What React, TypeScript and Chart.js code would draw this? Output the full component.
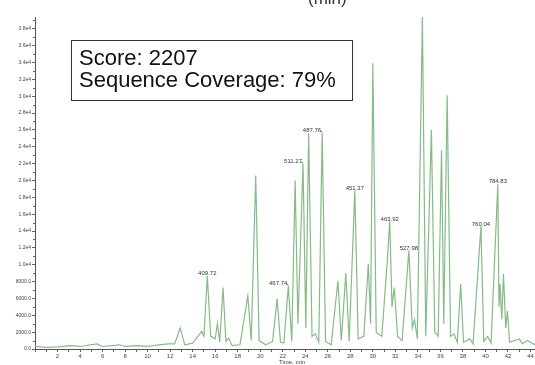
import { useEffect, useRef } from 'react';
import { Chart, registerables } from 'chart.js';

Chart.register(...registerables);

// Retention time (min) and intensity (counts) of the chromatogram trace
const retentionTimes = [
  0, 1.0, 2.0, 3.2, 4.0, 5.5, 6.0, 7.5, 8.0, 9.0, 10.0, 11.0, 11.8,
  12.4, 12.9, 13.3, 14.0, 14.8, 15.0, 15.3, 15.6, 16.0, 16.2, 16.4, 16.7, 16.95,
  17.2, 17.5, 18.2, 18.9, 19.2, 19.6, 19.9, 20.5, 21.1, 21.5, 21.8, 22.1, 22.5,
  22.8, 23.1, 23.35, 23.8, 24.05, 24.3, 24.6, 24.9, 25.2, 25.5, 25.8, 26.3, 26.9,
  27.2, 27.6, 27.9, 28.4, 28.7, 29.2, 29.6, 29.8, 30.0, 30.3, 30.8, 31.3, 31.5,
  31.7, 31.9, 32.2, 32.6, 33.2, 33.5, 33.7, 33.95, 34.4, 34.7, 35.2, 35.5, 35.8,
  36.1, 36.3, 36.6, 36.9, 37.2, 37.5, 37.8, 38.05, 38.6, 38.9, 39.6, 39.85, 40.2,
  40.5, 41.1, 41.2, 41.3, 41.45, 41.6, 41.8, 41.95, 42.15, 43.0, 43.3, 43.7, 44.4,
];
const intensities = [
  300, 200, 250, 400, 300, 600, 300, 500, 300, 400, 300, 500, 600,
  600, 2500, 500, 700, 2100, 1500, 8700, 1500, 1200, 3000, 800, 7300, 900,
  1300, 400, 500, 6300, 1000, 20600, 1000, 500, 900, 6000, 800, 700, 7500,
  900, 20000, 3000, 22000, 2500, 25600, 1500, 1800, 800, 25700, 900, 500, 8100,
  1000, 9000, 900, 18800, 1200, 1500, 10100, 3000, 33900, 2000, 1500, 10800, 15200,
  5000, 7300, 1500, 1000, 11700, 2500, 3500, 1200, 39400, 1500, 26000, 2000, 1500,
  23600, 3000, 30100, 1500, 1800, 800, 7700, 800, 1200, 600, 14600, 900, 1500,
  700, 19600, 5000, 7700, 3500, 8900, 2500, 4500, 800, 1200, 600, 1000, 500,
];

// Annotated peaks: retention time, m/z label, label alignment
const peakLabelTimes = [15.3, 22.5, 23.8, 25.5, 28.4, 31.5, 33.2, 39.6, 41.1];
const peakLabelTexts = ['409.72', '467.74', '511.27', '487.76', '451.37', '463.92', '527.98', '760.04', '784.83'];
const peakLabelAlign = ['center', 'right', 'right', 'right', 'center', 'center', 'center', 'center', 'center'];

const scoreText = 'Score: 2207';
const coverageText = 'Sequence Coverage: 79%';
const xTitle = 'Time, min';
const topTitle = '(min)';

const X_MIN = 0;
const X_MAX = 44.4;
const Y_MIN = 0;
const Y_MAX = 39400;
const Y_MAJOR_STEP = 2000;
const Y_MINOR_STEP = 1000;

function formatY(v: number): string {
  if (v < 10000) return v.toFixed(1);
  return (v / 10000).toFixed(1) + 'e4';
}

const overlayPlugin = {
  id: 'overlay',
  afterDraw(chart: any) {
    const ctx = chart.ctx as CanvasRenderingContext2D;
    const xs = chart.scales.x;
    const ys = chart.scales.y;
    const area = chart.chartArea;
    ctx.save();
    // minor y ticks
    ctx.strokeStyle = '#666';
    ctx.lineWidth = 1;
    ctx.beginPath();
    for (let v = Y_MINOR_STEP; v < Y_MAX; v += Y_MAJOR_STEP) {
      const py = Math.round(ys.getPixelForValue(v)) + 0.5;
      ctx.moveTo(area.left - 2, py);
      ctx.lineTo(area.left, py);
    }
    ctx.stroke();
    // peak labels
    ctx.font = '6px Arial, "Liberation Sans", sans-serif';
    ctx.fillStyle = '#333';
    ctx.textBaseline = 'bottom';
    peakLabelTimes.forEach((t, i) => {
      const idx = retentionTimes.indexOf(t);
      const v = intensities[idx];
      const px = xs.getPixelForValue(t);
      const py = ys.getPixelForValue(v);
      const align = peakLabelAlign[i] as CanvasTextAlign;
      ctx.textAlign = align;
      ctx.fillText(peakLabelTexts[i], align === 'right' ? px - 1 : px, py + 1);
      if (align === 'right') {
        ctx.strokeStyle = '#555';
        ctx.lineWidth = 0.8;
        ctx.beginPath();
        ctx.moveTo(px - 2, py - 1);
        ctx.lineTo(px, py - 1);
        ctx.stroke();
      }
    });
    // annotation box
    ctx.fillStyle = '#fff';
    ctx.fillRect(71, 40, 281, 61);
    ctx.strokeStyle = '#333';
    ctx.lineWidth = 1;
    ctx.strokeRect(71.5, 40.5, 281, 60);
    ctx.fillStyle = '#111';
    ctx.textAlign = 'left';
    ctx.textBaseline = 'alphabetic';
    ctx.font = '22px Arial, "Liberation Sans", sans-serif';
    ctx.fillText(scoreText, 79, 65);
    ctx.fillText(coverageText, 79, 87);
    // titles
    ctx.font = '17px Arial, "Liberation Sans", sans-serif';
    ctx.fillStyle = '#333';
    ctx.textAlign = 'left';
    ctx.fillText(topTitle, 308, 4);
    ctx.font = '6px Arial, "Liberation Sans", sans-serif';
    ctx.fillStyle = '#444';
    ctx.textAlign = 'center';
    ctx.fillText(xTitle, 292, 364);
    ctx.restore();
  },
};

export default function App() {
  const ref = useRef<HTMLCanvasElement | null>(null);
  useEffect(() => {
    document.body.style.margin = '0';
    const canvas = ref.current;
    if (!canvas) return;
    const chart = new Chart(canvas, {
      type: 'line',
      data: {
        datasets: [
          {
            data: retentionTimes.map((t, i) => ({ x: t, y: intensities[i] })),
            borderColor: '#86bb86',
            borderWidth: 1.2,
            pointRadius: 0,
            tension: 0,
            fill: false,
          },
        ],
      },
      options: {
        animation: false,
        responsive: false,
        maintainAspectRatio: false,
        layout: { padding: { top: 17, right: 0, left: 0, bottom: 0 } },
        plugins: { legend: { display: false }, tooltip: { enabled: false } },
        scales: {
          x: {
            type: 'linear',
            min: X_MIN,
            max: X_MAX,
            ticks: {
              stepSize: 1,
              autoSkip: false,
              includeBounds: false,
              maxRotation: 0,
              padding: 1,
              color: '#444',
              font: { size: 6, family: 'Arial' },
              callback: (v: any) => (Math.round(v) % 2 === 0 && v > 0 ? String(Math.round(v)) : ''),
            },
            grid: { display: true, drawOnChartArea: false, tickLength: 3, color: '#666' },
            border: { color: '#555', width: 1 },
            afterFit: (s: any) => {
              s.height = 16;
            },
          },
          y: {
            min: Y_MIN,
            max: Y_MAX,
            afterBuildTicks: (s: any) => {
              const t = [];
              for (let v = Y_MIN; v <= Y_MAX; v += Y_MAJOR_STEP) t.push({ value: v });
              s.ticks = t;
            },
            ticks: {
              autoSkip: false,
              includeBounds: false,
              padding: 1,
              color: '#444',
              font: { size: 5, family: 'Arial' },
              callback: (v: any) => formatY(Math.round(v)),
            },
            grid: { display: true, drawOnChartArea: false, tickLength: 3, color: '#666' },
            border: { color: '#555', width: 1 },
            afterFit: (s: any) => {
              s.width = 35;
            },
          },
        },
      },
      plugins: [overlayPlugin],
    });
    return () => chart.destroy();
  }, []);
  return (
    <div style={{ width: 535, height: 365, background: '#fff' }}>
      <canvas ref={ref} width={535} height={365} style={{ width: 535, height: 365, display: 'block' }} />
    </div>
  );
}
